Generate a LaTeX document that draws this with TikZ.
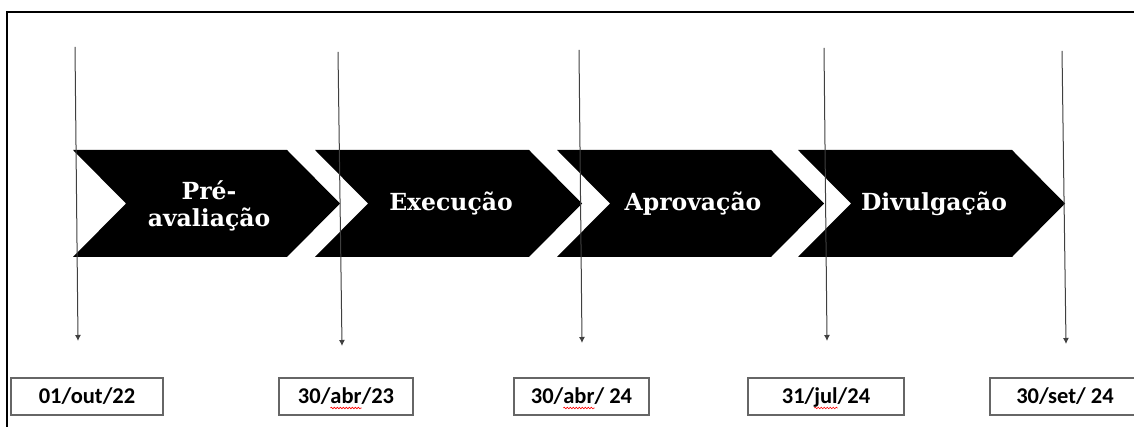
\documentclass[tikz,border=0pt]{standalone}
\usepackage{fontspec}
\usetikzlibrary{arrows.meta,decorations.pathmorphing}
\newfontfamily\chevfont{DejaVu Serif}
\newfontfamily\datefont{Carlito}
\newsavebox\wavebox
\newlength\wavelen
\newcommand\redwave[1]{\sbox\wavebox{#1}\setlength\wavelen{\wd\wavebox}\rlap{\tikz[overlay]\draw[red, line width=0.6pt, decorate, decoration={snake, amplitude=0.8pt, segment length=3pt}] (0pt,-4pt) -- (\wavelen,-4pt);}\usebox\wavebox}
\pgfdeclareverticalshading{chevshade}{100bp}{color(0bp)=(black); color(82bp)=(black); color(100bp)=(black!62)}
\tikzset{
  frameline/.style={line width=2pt, black},
  chevtext/.style={text=white, font=\chevfont\bfseries\fontsize{23.5}{27}\selectfont, align=center, inner sep=0pt},
  timeline/.style={line width=1pt, black!75, -{Latex[length=6pt,width=6pt]}},
  datebox/.style={draw=black!60, line width=1.3pt, fill=white, minimum height=37pt, inner sep=0pt, text height=18pt, text depth=3pt, font=\datefont\bfseries\fontsize{22.5}{24}\selectfont}
}
\begin{document}
\begin{tikzpicture}[x=1pt,y=1pt]
\useasboundingbox (0,0) rectangle (1134,427);
\clip (0,0) rectangle (1134,427);
% frame
\draw[frameline] (7,-5) -- (7,415) -- (1145,415);
% chevrons
\foreach \L in {73,315,557,798}{
  \shade[shading=chevshade] (\L,277) -- (\L+214,277) -- (\L+267,223.5) -- (\L+214,170) -- (\L,170) -- (\L+53,223.5) -- cycle;
}
\node[chevtext, anchor=center] (c1) at (209,221) {Pré-\\avaliação};
\node[chevtext, anchor=base] (c2) at (451,216) {Execução};
\node[chevtext, anchor=base] (c3) at (693,216) {Aprovação};
\node[chevtext, anchor=base] (c4) at (934,216) {Divulgação};
% timeline coordinates
\coordinate (t1) at (75,380);   \coordinate (b1) at (78,86);
\coordinate (t2) at (338,375);  \coordinate (b2) at (342,81);
\coordinate (t3) at (579,377);  \coordinate (b3) at (582,84);
\coordinate (t4) at (824,379);  \coordinate (b4) at (827,86);
\coordinate (t5) at (1062,376); \coordinate (b5) at (1066,83);
\foreach \i in {1,...,5}{ \draw[timeline] (t\i) -- (b\i); }
% date boxes
\node[datebox, minimum width=152pt] (d1) at (87,30.5) {01/out/22};
\node[datebox, minimum width=134pt] (d2) at (346,30.5) {30/\redwave{abr}/23};
\node[datebox, minimum width=135pt] (d3) at (581.5,30.5) {30/\redwave{abr}/ 24};
\node[datebox, minimum width=156pt] (d4) at (826,30.5) {31/\redwave{jul}/24};
\node[datebox, minimum width=150pt] (d5) at (1065,30.5) {30/set/ 24};
\end{tikzpicture}
\end{document}
